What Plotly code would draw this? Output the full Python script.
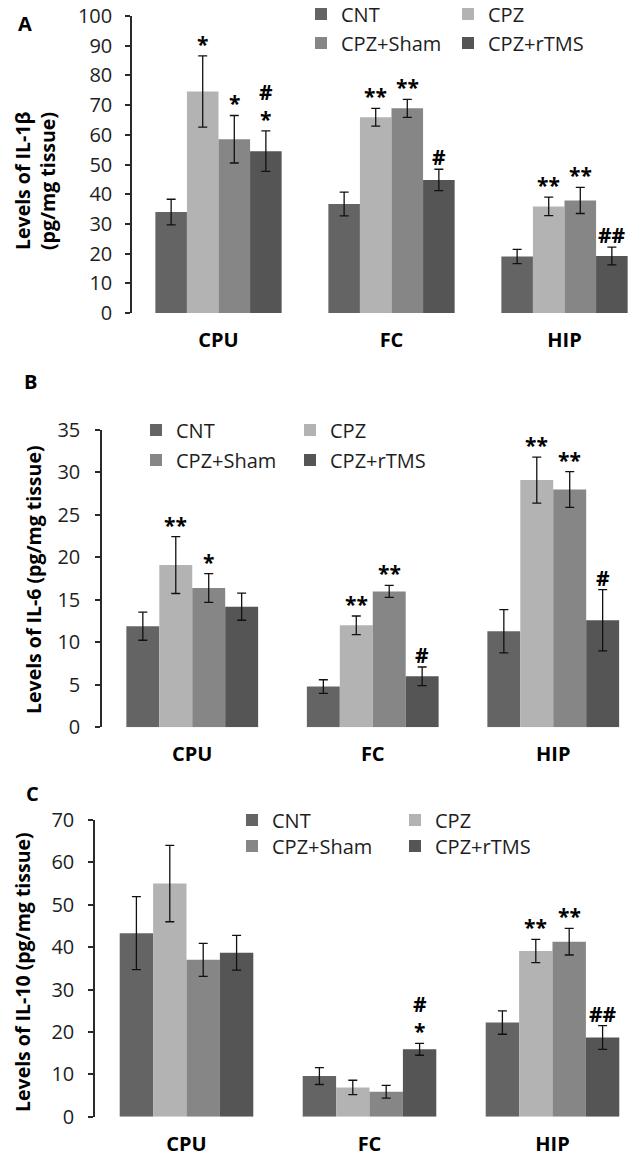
import plotly.graph_objects as go

regions = ["CPU", "FC", "HIP"]
groups = ["CNT", "CPZ", "CPZ+Sham", "CPZ+rTMS"]
colors = ["#646464", "#b3b3b3", "#868686", "#555555"]

# Panel A: IL-1beta (pg/mg tissue)
il1b_mean = {"CNT": [34.0, 36.7, 19.0], "CPZ": [74.6, 65.9, 35.9],
             "CPZ+Sham": [58.5, 68.9, 37.9], "CPZ+rTMS": [54.5, 44.8, 19.2]}
il1b_err = {"CNT": [4.3, 4.0, 2.4], "CPZ": [12.0, 3.0, 3.1],
            "CPZ+Sham": [8.0, 3.0, 4.4], "CPZ+rTMS": [6.8, 3.6, 3.0]}
il1b_sig = {"CNT": ["", "", ""], "CPZ": ["*", "**", "**"],
            "CPZ+Sham": ["*", "**", "**"], "CPZ+rTMS": ["#<br>*", "#", "##"]}

# Panel B: IL-6 (pg/mg tissue)
il6_mean = {"CNT": [11.9, 4.8, 11.3], "CPZ": [19.1, 12.0, 29.1],
            "CPZ+Sham": [16.4, 16.0, 28.0], "CPZ+rTMS": [14.2, 6.0, 12.6]}
il6_err = {"CNT": [1.65, 0.8, 2.55], "CPZ": [3.35, 1.1, 2.7],
           "CPZ+Sham": [1.7, 0.7, 2.1], "CPZ+rTMS": [1.6, 1.1, 3.6]}
il6_sig = {"CNT": ["", "", ""], "CPZ": ["**", "**", "**"],
           "CPZ+Sham": ["*", "**", "**"], "CPZ+rTMS": ["", "#", "#"]}

# Panel C: IL-10 (pg/mg tissue)
il10_mean = {"CNT": [43.3, 9.6, 22.2], "CPZ": [55.0, 6.9, 39.1],
             "CPZ+Sham": [37.0, 5.9, 41.3], "CPZ+rTMS": [38.7, 15.9, 18.7]}
il10_err = {"CNT": [8.6, 2.0, 2.75], "CPZ": [9.0, 1.7, 2.75],
            "CPZ+Sham": [3.9, 1.5, 3.15], "CPZ+rTMS": [4.1, 1.4, 2.8]}
il10_sig = {"CNT": ["", "", ""], "CPZ": ["", "", "**"],
            "CPZ+Sham": ["", "", "**"], "CPZ+rTMS": ["", "#<br>*", "##"]}

panel_letters = ["A", "B", "C"]
# each y-axis title as a list of lines
y_titles = [["Levels of IL-1β", "(pg/mg tissue)"],
            ["Levels of IL-6 (pg/mg tissue)"],
            ["Levels of IL-10 (pg/mg tissue)"]]
y_max = [100, 35, 70]
y_dtick = [10, 5, 10]

W, H = 638, 1161
FONT = "Open Sans"
TXT = "#1e1e1e"
BARGAP = 0.27

# pixel geometry of each panel: left, top, bottom, category width
geom = [(132, 16, 313, 173), (102, 430, 727.3, 180.5), (95, 820, 1116.7, 183)]
legend_geom = [(301, 14, 43, 142), (136, 430, 460, 149), (232, 820, 846, 158)]
letter_pos = [(25, 24), (30, 382), (32, 793)]
ytitle_x = [[22, 47], [33], [22]]
ytitle_y = [181, 580, 972]
ytick_standoff = [9, 11, 10]

data = [(il1b_mean, il1b_err, il1b_sig), (il6_mean, il6_err, il6_sig),
        (il10_mean, il10_err, il10_sig)]

fig = go.Figure()
annotations = []
layout = {}

for p in range(3):
    mean, err, sig = data[p]
    ax = "" if p == 0 else str(p + 1)
    left, top, bottom, cw = geom[p]
    xr_end = (W - left) / cw - 0.5
    layout["xaxis" + ax] = dict(
        domain=[left / W, 1], range=[-0.5, xr_end], type="category",
        anchor="y" + ax, showline=False, ticks="", showgrid=False,
        tickfont=dict(family=FONT, size=20, color="#000000", weight="bold"),
        ticklabelstandoff=13, fixedrange=True)
    layout["yaxis" + ax] = dict(
        domain=[1 - bottom / H, 1 - top / H], range=[0, y_max[p]],
        dtick=y_dtick[p], anchor="x" + ax, showline=True, linecolor="#2a2a2a",
        linewidth=1.5, ticks="outside", ticklen=5, tickcolor="#2a2a2a",
        tickwidth=1.5, showgrid=False, zeroline=False,
        tickfont=dict(family=FONT, size=20, color=TXT),
        ticklabelstandoff=ytick_standoff[p])
    lx, ly1, ly2, ew = legend_geom[p]
    leg1 = "legend" if p == 0 else "legend" + str(2 * p + 1)
    leg2 = "legend" + str(2 * p + 2)
    for lname, ly in ((leg1, ly1), (leg2, ly2)):
        layout[lname] = dict(
            orientation="h", x=lx / W, y=1 - ly / H, xanchor="left",
            yanchor="middle", entrywidth=ew - 40, entrywidthmode="pixels",
            font=dict(family=FONT, size=20, color=TXT),
            bgcolor="rgba(0,0,0,0)", tracegroupgap=0, itemclick=False)
    for gi, g in enumerate(groups):
        fig.add_trace(go.Bar(
            x=regions, y=mean[g], name=g, marker=dict(color=colors[gi], line=dict(width=0)),
            error_y=dict(type="data", array=err[g], color="#111111", thickness=1.3, width=4.5),
            xaxis="x" + ax, yaxis="y" + ax,
            legend=leg1 if gi < 2 else leg2, showlegend=True))
        bw = (1 - BARGAP) / len(groups)
        off = (gi - (len(groups) - 1) / 2) * bw
        for ri, r in enumerate(regions):
            if sig[g][ri]:
                annotations.append(dict(
                    x=ri + off, y=mean[g][ri] + err[g][ri], xref="x" + ax, yref="y" + ax,
                    text=sig[g][ri], showarrow=False, yanchor="bottom", yshift=-4,
                    font=dict(family=FONT, size=21, color="#000000", weight="bold")))
    annotations.append(dict(
        x=letter_pos[p][0] / W, y=1 - letter_pos[p][1] / H, xref="paper", yref="paper",
        text=panel_letters[p], showarrow=False, xanchor="center", yanchor="middle",
        font=dict(family=FONT, size=20, color="#000000", weight="bold")))
    for line, tx in zip(y_titles[p], ytitle_x[p]):
        annotations.append(dict(
            x=tx / W, y=1 - ytitle_y[p] / H, xref="paper", yref="paper",
            text=line, showarrow=False, textangle=-90, xanchor="center",
            yanchor="middle",
            font=dict(family=FONT, size=19.5, color="#000000", weight="bold")))

fig.update_layout(
    width=W, height=H, margin=dict(l=0, r=0, t=0, b=0, autoexpand=False),
    paper_bgcolor="white", plot_bgcolor="white",
    barmode="group", bargap=BARGAP, bargroupgap=0,
    annotations=annotations, **layout)

fig.write_html("out.html", config={"displayModeBar": False},
               post_script="document.body.style.margin='0';document.body.style.padding='0';")
